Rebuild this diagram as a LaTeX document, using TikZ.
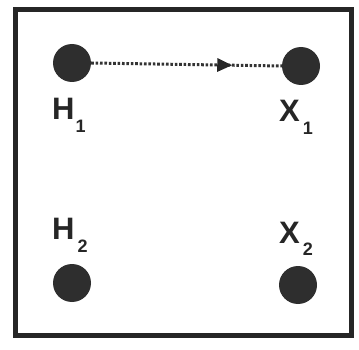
\documentclass[tikz,border=0pt]{standalone}
\usepackage{fontspec}
\setmainfont{Liberation Sans}
\usetikzlibrary{decorations.markings,arrows.meta}
\tikzset{
  dot/.style={circle,fill=black!82,inner sep=0pt,minimum width=38pt,minimum height=36pt},
  lab/.style={anchor=base west,inner sep=0pt,text=black!85,font=\bfseries\fontsize{31}{31}\selectfont},
  frame/.style={draw=black!85,line width=5pt},
  link/.style={draw=black!80,line width=3pt,dash pattern=on 2.6pt off 1.8pt,
    postaction={decorate,decoration={markings,mark=at position 0.74 with {\arrow[black!85]{Triangle[length=15pt,width=13pt]}}}}}
}
\newcommand{\subn}[1]{\raisebox{-13pt}{\bfseries\fontsize{18}{18}\selectfont #1}}
\begin{document}
\begin{tikzpicture}[x=1pt,y=-1pt]
\useasboundingbox (0,0) rectangle (359,350);
\draw[frame] (15.5,10) rectangle (351,335);
\node[dot] (h1) at (72,63) {};
\node[dot] (x1) at (301,66) {};
\node[dot] (h2) at (72,283) {};
\node[dot] (x2) at (298,285) {};
\node[lab] (h1l) at (52,120) {H\kern1pt\subn{1}};
\node[lab] (x1l) at (279,122) {X\kern3pt\subn{1}};
\node[lab] (h2l) at (52,240) {H\kern3pt\subn{2}};
\node[lab] (x2l) at (279,243) {X\kern3pt\subn{2}};
\draw[link] (h1.east) -- (x1.west);
\end{tikzpicture}
\end{document}
